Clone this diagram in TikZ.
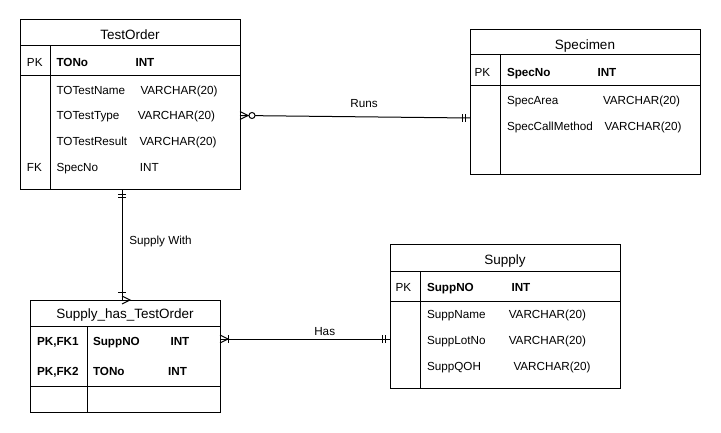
\documentclass[tikz,border=0pt]{standalone}
\usepackage{fontspec}
\setmainfont{Liberation Sans}
\usetikzlibrary{arrows.meta,positioning,calc}

\begin{document}
\begin{tikzpicture}[
    x=1pt, y=-1pt,
    line width=1pt,
    tbl/.style={draw, anchor=north west, inner sep=0pt, outer sep=0pt},
    ttl/.style={inner sep=0pt, text height=9.7pt, text depth=0pt, font=\fontsize{13.5}{16}\selectfont},
    fld/.style={anchor=west, inner sep=0pt, text height=8.4pt, text depth=0pt, font=\fontsize{11.7}{14}\selectfont},
    keyfld/.style={fld, font=\fontsize{11.7}{14}\selectfont\bfseries},
    rellbl/.style={fld, anchor=center},
    pics/crow/.style={code={\draw (0,-4) -- (8,0) -- (0,4);}},
    pics/zeromany/.style={code={\pic {crow}; \draw[fill=white] (12,0) circle[radius=3];}},
    pics/onemany/.style={code={\pic {crow}; \draw (8,-4) -- (8,4);}},
    pics/mandone/.style={code={\draw (4.5,-4) -- (4.5,4) (8,-4) -- (8,4);}}
]
\useasboundingbox (0,0) rectangle (721,433);

% TestOrder
\node[tbl, minimum width=220pt, minimum height=170pt] (testorder) at (20,20) {};
\draw (20,46) -- (240,46) (20,76) -- (240,76) (50,46) -- (50,190);
\node[ttl] (to-title) at (130,34.5) {TestOrder};
\node[fld] (to-pk) at (26.5,62) {PK};
\node[keyfld] (to-tono) at (56,62) {TONo};
\node[keyfld] (to-tonot) at (135,62) {INT};
\node[fld] (to-name) at (56,90) {TOTestName};
\node[fld] (to-namet) at (140,90) {VARCHAR(20)};
\node[fld] (to-type) at (56,115.5) {TOTestType};
\node[fld] (to-typet) at (137.3,115.5) {VARCHAR(20)};
\node[fld] (to-res) at (56,141) {TOTestResult};
\node[fld] (to-rest) at (139,141) {VARCHAR(20)};
\node[fld] (to-fk) at (26.5,167) {FK};
\node[fld] (to-spec) at (56,167) {SpecNo};
\node[fld] (to-spect) at (139.3,167) {INT};

% Specimen
\node[tbl, minimum width=230pt, minimum height=145pt] (specimen) at (470,30) {};
\draw (470,55) -- (700,55) (470,86) -- (700,86) (500,55) -- (500,175);
\node[ttl] (sp-title) at (585,44.3) {Specimen};
\node[fld] (sp-pk) at (474,72) {PK};
\node[keyfld] (sp-no) at (506.5,72) {SpecNo};
\node[keyfld] (sp-not) at (597,72) {INT};
\node[fld] (sp-area) at (506.5,100) {SpecArea};
\node[fld] (sp-areat) at (602.5,100) {VARCHAR(20)};
\node[fld] (sp-call) at (506.5,126) {SpecCallMethod};
\node[fld] (sp-callt) at (604,126) {VARCHAR(20)};

% Supply
\node[tbl, minimum width=230pt, minimum height=143pt] (supply) at (390,245) {};
\draw (390,271) -- (620,271) (390,301) -- (620,301) (420,271) -- (420,388);
\node[ttl] (su-title) at (505,259.5) {Supply};
\node[fld] (su-pk) at (395,287) {PK};
\node[keyfld] (su-no) at (426.5,287) {SuppNO};
\node[keyfld] (su-not) at (511,287) {INT};
\node[fld] (su-name) at (426.5,314) {SuppName};
\node[fld] (su-namet) at (508.3,314) {VARCHAR(20)};
\node[fld] (su-lot) at (426.5,340) {SuppLotNo};
\node[fld] (su-lott) at (508.3,340) {VARCHAR(20)};
\node[fld] (su-qoh) at (426.5,366) {SuppQOH};
\node[fld] (su-qoht) at (513,366) {VARCHAR(20)};

% Supply_has_TestOrder
\node[tbl, minimum width=190pt, minimum height=112pt] (supplyhas) at (30,300) {};
\draw (30,326) -- (220,326) (30,386) -- (220,386) (87,326) -- (87,412);
\node[ttl] (sh-title) at (125,314) {Supply\_has\_TestOrder};
\node[keyfld] (sh-pk1) at (36.5,341.5) {PK,FK1};
\node[keyfld] (sh-supp) at (92.5,341.5) {SuppNO};
\node[keyfld] (sh-suppt) at (170,341.5) {INT};
\node[keyfld] (sh-pk2) at (36.5,371.5) {PK,FK2};
\node[keyfld] (sh-tono) at (92.5,371.5) {TONo};
\node[keyfld] (sh-tonot) at (167.7,371.5) {INT};

% relationships
\draw (testorder.east |- to-type) -- ($(specimen.west)+(0,15.5)$);
\pic at (testorder.east |- to-type) {zeromany};
\pic[rotate=180] at ($(specimen.west)+(0,15.5)$) {mandone};
\node[rellbl] (runs) at (364,103) {Runs};

\draw ($(testorder.south)+(-8,0)$) -- ($(supplyhas.north)+(-3,0)$);
\pic[rotate=-90] at ($(testorder.south)+(-8,0)$) {mandone};
\pic[rotate=90] at ($(supplyhas.north)+(-3,0)$) {onemany};
\node[rellbl] (supwith) at (160.5,240.5) {Supply With};

\draw ($(supplyhas.east)+(0,-17)$) -- ($(supply.west)+(0,22.5)$);
\pic at ($(supplyhas.east)+(0,-17)$) {onemany};
\pic[rotate=180] at ($(supply.west)+(0,22.5)$) {mandone};
\node[rellbl] (has) at (324.7,331) {Has};
\end{tikzpicture}
\end{document}
